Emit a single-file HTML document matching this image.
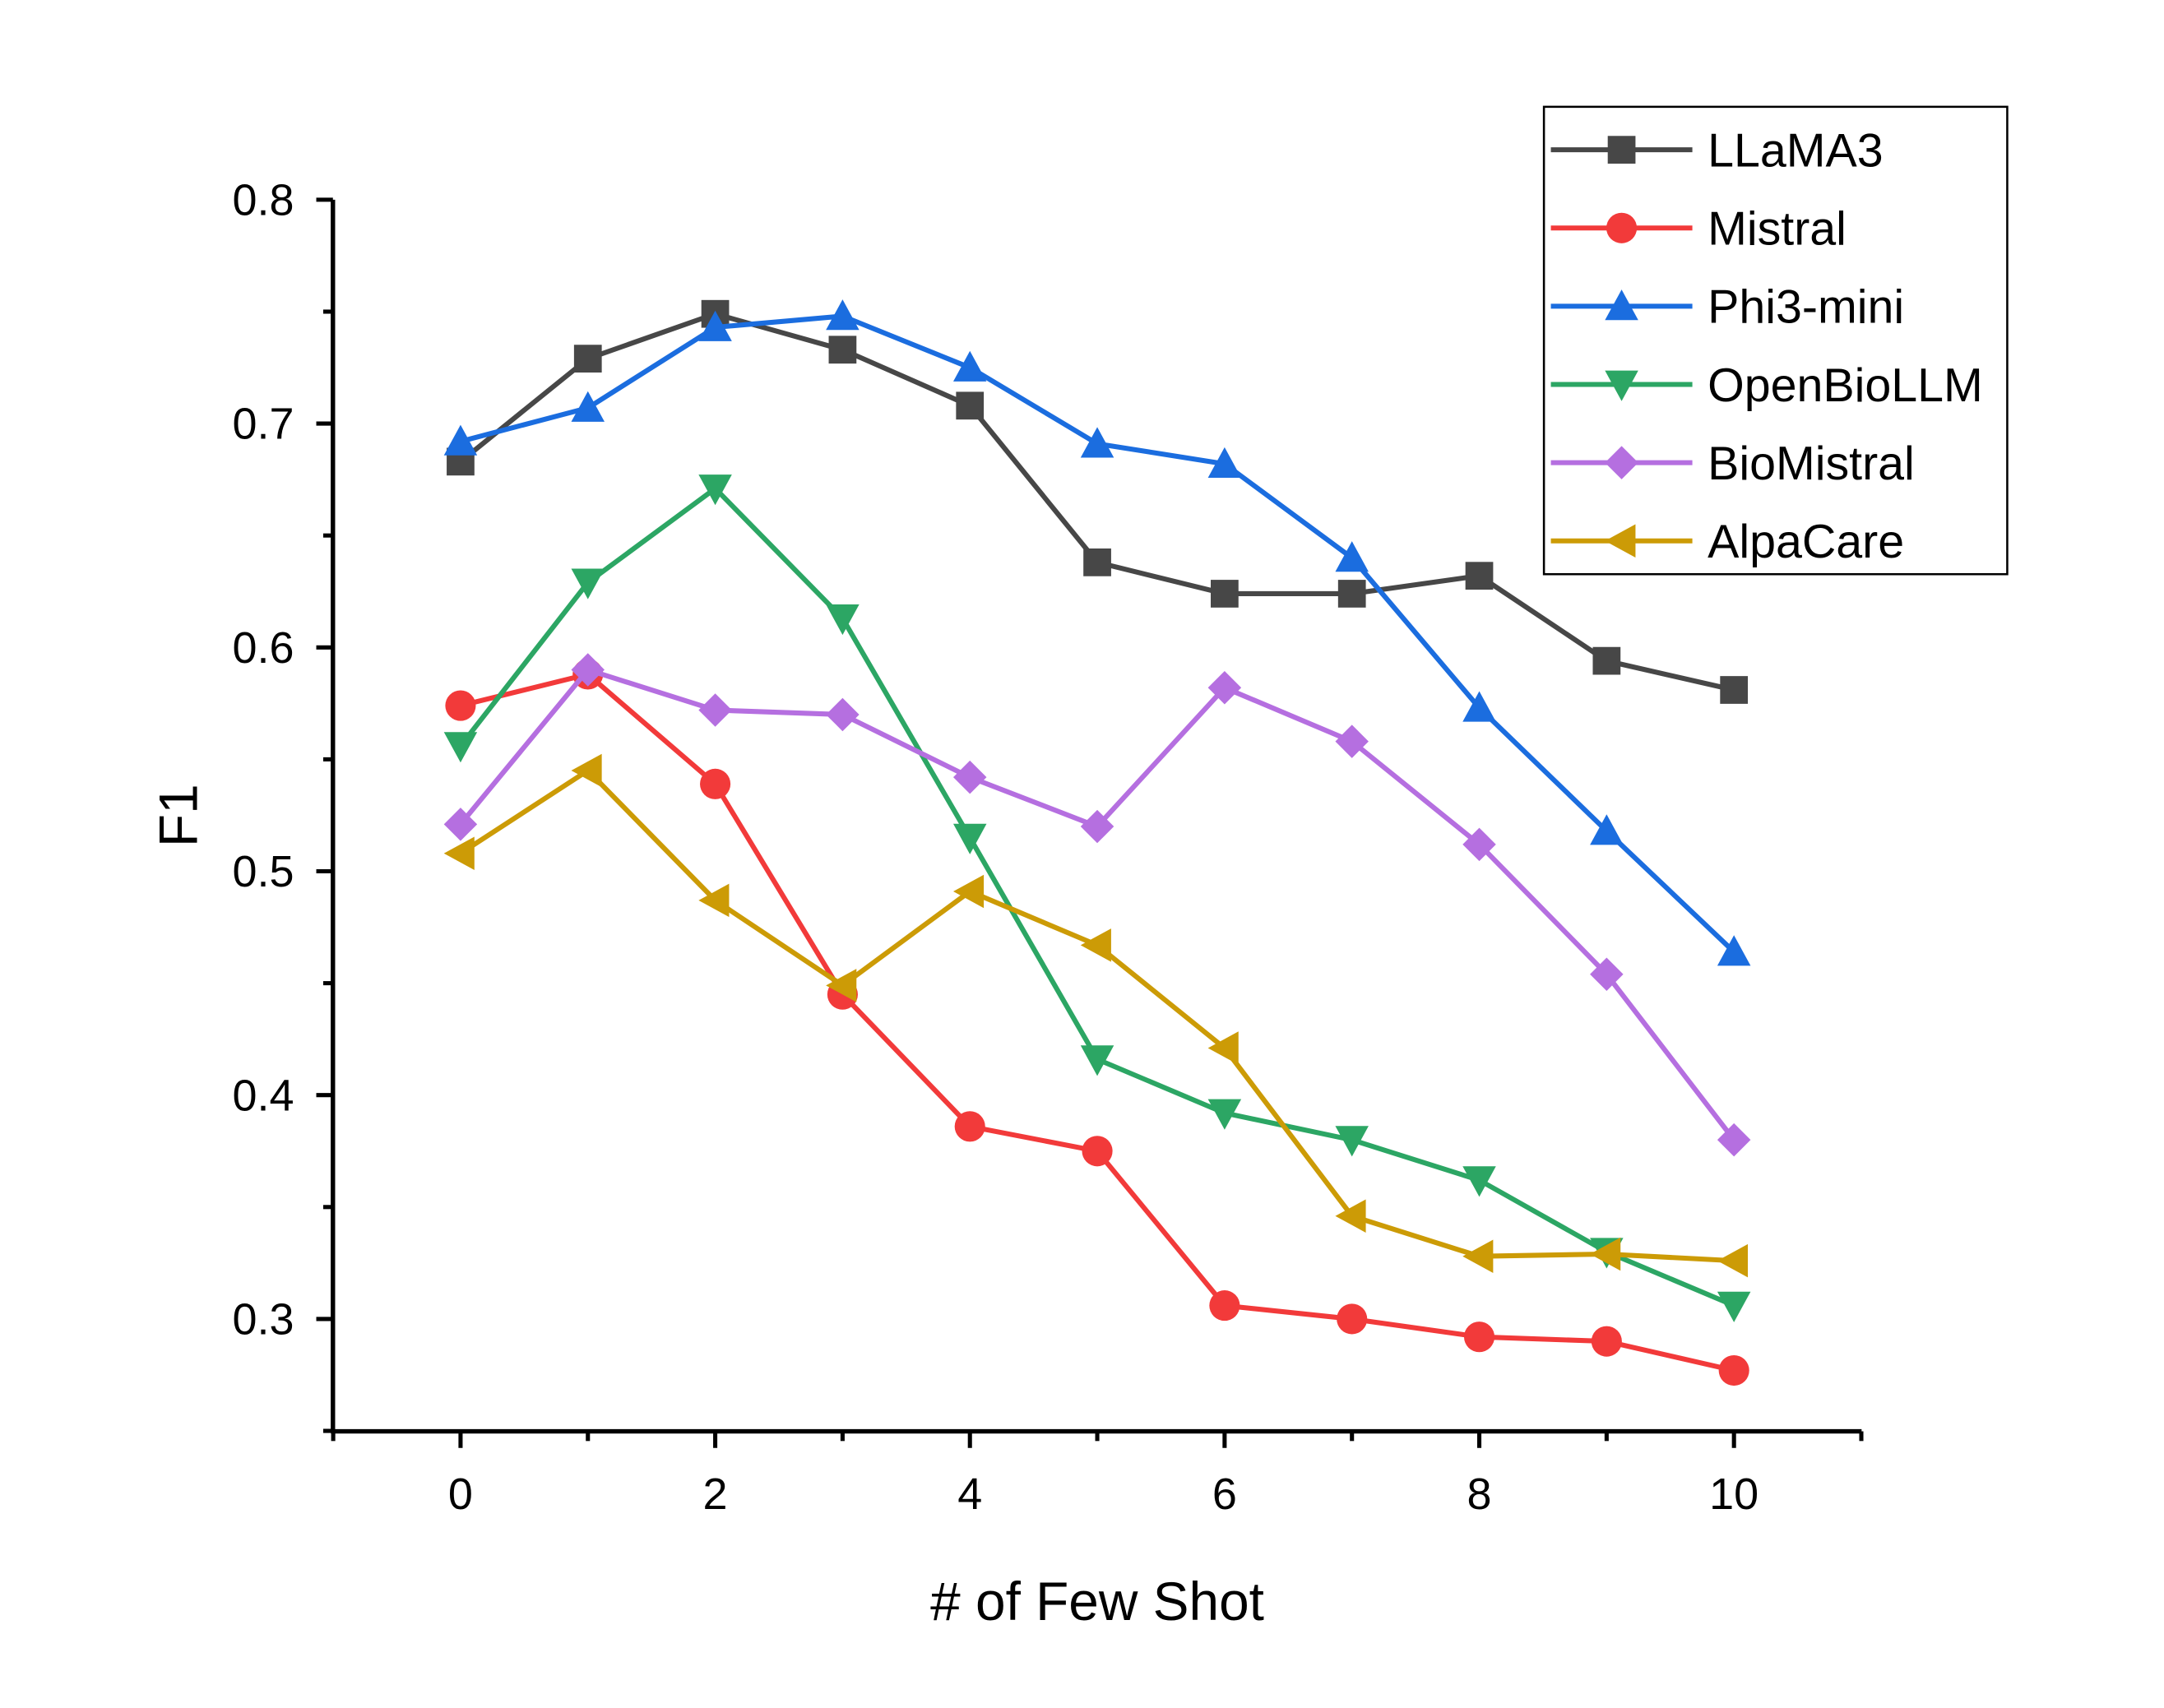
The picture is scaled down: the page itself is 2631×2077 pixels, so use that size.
<!DOCTYPE html>
<html><head><meta charset="utf-8"><style>
html,body{margin:0;padding:0;background:#fff;}
svg{display:block;font-family:"Liberation Sans","DejaVu Sans",sans-serif;}
</style></head><body>
<svg id="chart" width="2631" height="2077" viewBox="0 0 1560 1231.5" preserveAspectRatio="none" xmlns="http://www.w3.org/2000/svg">
<g id="axes"></g><g id="series"></g><g id="legend"></g>
</svg>
<script>
const xValues=[0,1,2,3,4,5,6,7,8,9,10];
const xTickLabels=["0","2","4","6","8","10"];
const yTickLabels=["0.3","0.4","0.5","0.6","0.7","0.8"];
const seriesNames=["LLaMA3","Mistral","Phi3-mini","OpenBioLLM","BioMistral","AlpaCare"];
const llama3=[0.683,0.729,0.749,0.733,0.708,0.638,0.624,0.624,0.632,0.594,0.581];
const mistral=[0.574,0.588,0.539,0.445,0.386,0.375,0.306,0.300,0.292,0.290,0.277];
const phi3=[0.692,0.707,0.743,0.748,0.725,0.691,0.682,0.640,0.573,0.518,0.464];
const openbio=[0.556,0.629,0.671,0.613,0.515,0.416,0.392,0.380,0.362,0.330,0.306];
const biomistral=[0.521,0.590,0.572,0.570,0.542,0.520,0.582,0.558,0.512,0.454,0.380];
const alpacare=[0.508,0.545,0.487,0.449,0.491,0.467,0.421,0.346,0.328,0.329,0.326];

const NS="http://www.w3.org/2000/svg";
const X0=240,X1=1342,Y0=1032,Y1=144;
const xs=v=>332+(v-0)*91.8;
const ys=v=>951-(v-0.3)*1614;
function mk(tag,attrs,parent){const e=document.createElementNS(NS,tag);for(const k in attrs)e.setAttribute(k,attrs[k]);parent.appendChild(e);return e;}
const axes=document.getElementById('axes');
let e;
e=mk('line',{x1:X0,y1:Y1,x2:X0,y2:Y0,stroke:'#000','stroke-width':3.2},axes);


e=mk('line',{x1:X0-1.5,y1:Y0,x2:X1,y2:Y0,stroke:'#000','stroke-width':3.2},axes);


yTickLabels.forEach(t=>{const v=parseFloat(t);const y=ys(v);
 mk('line',{x1:X0-12,y1:y,x2:X0,y2:y,stroke:'#000','stroke-width':3},axes);
 e=mk('text',{x:X0-28,y:y+11,'text-anchor':'end','font-size':32,fill:'#000'},axes);e.textContent=t;
 
 
 const ym=ys(v-0.05);mk('line',{x1:X0-7,y1:ym,x2:X0,y2:ym,stroke:'#000','stroke-width':3},axes);
});
for(let v=-1;v<=11;v++){const x=xs(v);const major=(v%2===0);
 mk('line',{x1:x,y1:Y0,x2:x,y2:Y0+(major?12:7),stroke:'#000','stroke-width':3},axes);}
xTickLabels.forEach(t=>{const x=xs(parseFloat(t));
 e=mk('text',{x:x,y:Y0+56,'text-anchor':'middle','font-size':32,fill:'#000'},axes);e.textContent=t;
 
 });
e=mk('text',{x:791,y:1168,'text-anchor':'middle','font-size':39,fill:'#000'},axes);e.textContent='# of Few Shot';


e=mk('text',{x:0,y:0,'text-anchor':'middle','font-size':39,fill:'#000',transform:'translate(142,588) rotate(-90)'},axes);e.textContent='F1';



const colors=["#474747","#f23a3a","#1b6ddf","#2ca664","#b56fe0","#cc9b06"];
const shapes=["square","circle","up","down","diamond","left"];
const allData=[llama3,mistral,phi3,openbio,biomistral,alpacare];
function marker(shape,x,y,c,p){const s=10;
 if(shape==='square')return mk('rect',{x:x-s,y:y-s,width:2*s,height:2*s,fill:c},p);
 if(shape==='circle')return mk('circle',{cx:x,cy:y,r:s+1,fill:c},p);
 let pts;
 if(shape==='up')pts=[[x,y-s-2],[x+s+2,y+s],[x-s-2,y+s]];
 if(shape==='down')pts=[[x,y+s+2],[x+s+2,y-s],[x-s-2,y-s]];
 if(shape==='diamond')pts=[[x,y-s-2],[x+s+2,y],[x,y+s+2],[x-s-2,y]];
 if(shape==='left')pts=[[x-s-2,y],[x+s,y-s-2],[x+s,y+s+2]];
 return mk('polygon',{points:pts.map(q=>q.join(',')).join(' '),fill:c},p);}
const sg=document.getElementById('series');
allData.forEach((d,i)=>{const g=mk('g',{},sg);
 
 
 const pl=mk('polyline',{points:d.map((v,j)=>xs(xValues[j])+','+ys(v)).join(' '),fill:'none',stroke:colors[i],'stroke-width':3.6},g);
 
 
 d.forEach((v,j)=>{const m=marker(shapes[i],xs(xValues[j]),ys(v),colors[i],g);
  
  });
});
const lg=document.getElementById('legend');


mk('rect',{x:1113,y:77,width:334,height:337,fill:'#fff',stroke:'#000','stroke-width':1.5},lg);
seriesNames.forEach((n,i)=>{const y=108+i*56.4;const g=mk('g',{},lg);
 
 
 mk('line',{x1:1118,y1:y,x2:1220,y2:y,stroke:colors[i],'stroke-width':3.6},g);
 marker(shapes[i],1169,y,colors[i],g);
 const t=mk('text',{x:1231,y:y+12,'font-size':34,fill:'#000'},g);t.textContent=n;});
</script>
</body></html>
